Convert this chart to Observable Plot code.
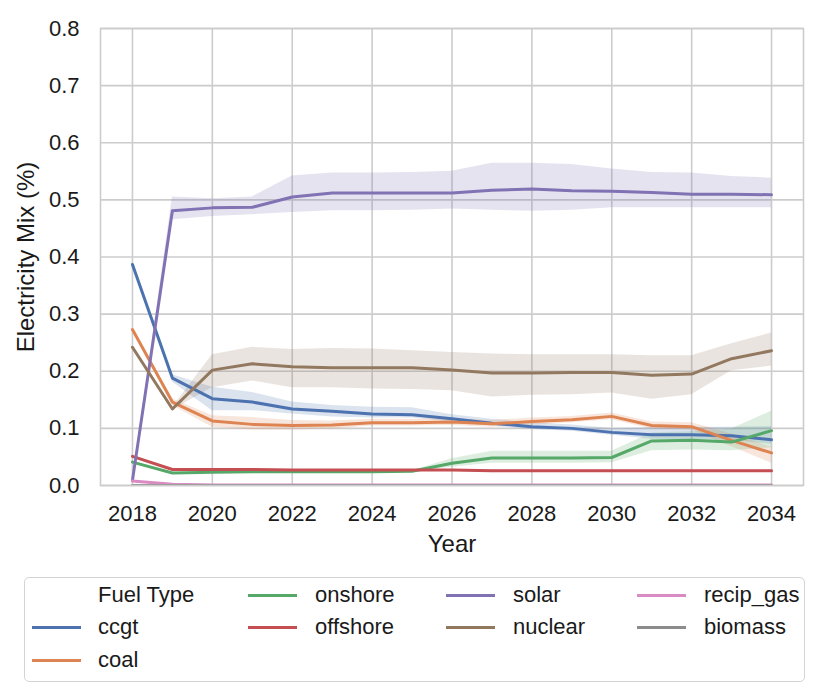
<!DOCTYPE html>
<html>
<head>
<meta charset="utf-8">
<script src="https://cdn.jsdelivr.net/npm/d3@7"></script>
<script src="https://cdn.jsdelivr.net/npm/@observablehq/plot@0.6"></script>
<style>
  html, body { margin: 0; padding: 0; background: #fff; }
  body { width: 831px; height: 697px; position: relative; font-family: "Liberation Sans", Arial, sans-serif; color: #262626; }
  #chart { position: absolute; left: 0; top: 0; }
  #legend { position: absolute; left: 0; top: 0; width: 831px; height: 697px; pointer-events: none; }
  .box { position: absolute; left: 24px; top: 577px; width: 781px; height: 105px; border: 1.5px solid #d4d4d4; border-radius: 5px; box-sizing: border-box; }
  .handle { position: absolute; height: 3px; width: 49px; }
  .lbl { position: absolute; font-size: 22px; line-height: 26px; white-space: nowrap; }
</style>
</head>
<body>
<div id="chart"></div>
<div id="legend"></div>
<script>
const years = [2018,2019,2020,2021,2022,2023,2024,2025,2026,2027,2028,2029,2030,2031,2032,2033,2034];
const fuels = ["ccgt","coal","onshore","offshore","solar","nuclear","recip_gas","biomass"];
const colors = ["#4C72B0","#DD8452","#55A868","#C44E52","#8172B3","#937860","#DA8BC3","#8C8C8C"];
const xTicks = [2018,2020,2022,2024,2026,2028,2030,2032,2034];
const yTicks = [0,0.1,0.2,0.3,0.4,0.5,0.6,0.7,0.8];

const ccgtMean = [0.387,0.188,0.152,0.146,0.134,0.130,0.125,0.124,0.117,0.109,0.103,0.100,0.093,0.089,0.089,0.087,0.080];
const ccgtLo   = [0.387,0.181,0.131,0.131,0.125,0.120,0.118,0.118,0.111,0.104,0.098,0.095,0.088,0.081,0.080,0.079,0.072];
const ccgtHi   = [0.387,0.194,0.172,0.163,0.146,0.140,0.137,0.136,0.124,0.116,0.110,0.106,0.100,0.101,0.102,0.102,0.103];

const coalMean = [0.273,0.146,0.113,0.107,0.105,0.106,0.110,0.110,0.111,0.108,0.112,0.115,0.121,0.105,0.103,0.079,0.057];
const coalLo   = [0.273,0.140,0.102,0.097,0.097,0.099,0.104,0.104,0.105,0.102,0.106,0.110,0.115,0.099,0.097,0.068,0.039];
const coalHi   = [0.273,0.152,0.122,0.119,0.114,0.113,0.116,0.116,0.117,0.114,0.118,0.121,0.127,0.111,0.110,0.090,0.067];

const onshoreMean = [0.041,0.022,0.023,0.024,0.024,0.024,0.024,0.025,0.039,0.048,0.048,0.048,0.049,0.078,0.079,0.076,0.096];
const onshoreLo   = [0.041,0.021,0.022,0.023,0.023,0.023,0.023,0.024,0.032,0.039,0.039,0.039,0.040,0.061,0.062,0.061,0.066];
const onshoreHi   = [0.041,0.023,0.024,0.025,0.025,0.025,0.025,0.026,0.047,0.060,0.060,0.060,0.060,0.092,0.094,0.099,0.130];

const offshoreMean = [0.051,0.028,0.028,0.028,0.027,0.027,0.027,0.027,0.027,0.026,0.026,0.026,0.026,0.026,0.026,0.026,0.026];
const offshoreLo   = [0.051,0.027,0.027,0.027,0.026,0.026,0.026,0.026,0.026,0.025,0.025,0.025,0.025,0.025,0.025,0.025,0.025];
const offshoreHi   = [0.051,0.029,0.029,0.029,0.028,0.028,0.028,0.028,0.028,0.027,0.027,0.027,0.027,0.027,0.027,0.027,0.027];

const solarMean = [0.009,0.481,0.486,0.487,0.505,0.512,0.512,0.512,0.512,0.517,0.519,0.516,0.515,0.513,0.510,0.510,0.509];
const solarLo   = [0.009,0.465,0.471,0.474,0.478,0.481,0.481,0.482,0.484,0.482,0.480,0.482,0.486,0.486,0.486,0.486,0.486];
const solarHi   = [0.009,0.505,0.502,0.505,0.542,0.547,0.547,0.548,0.550,0.564,0.564,0.562,0.554,0.548,0.547,0.541,0.538];

const nuclearMean = [0.242,0.134,0.202,0.213,0.208,0.206,0.206,0.206,0.202,0.197,0.197,0.198,0.198,0.193,0.195,0.222,0.236];
const nuclearLo   = [0.242,0.132,0.171,0.183,0.171,0.171,0.169,0.168,0.166,0.155,0.158,0.159,0.162,0.151,0.159,0.201,0.209];
const nuclearHi   = [0.242,0.136,0.229,0.242,0.238,0.240,0.239,0.236,0.233,0.230,0.229,0.229,0.229,0.227,0.227,0.248,0.267];

const recipMean = [0.008,0.002,0.001,0.001,0.001,0.001,0.001,0.001,0.001,0.001,0.001,0.001,0.001,0.001,0.001,0.001,0.001];
const recipLo   = [0.008,0.001,0.000,0.000,0.000,0.000,0.000,0.000,0.000,0.000,0.000,0.000,0.000,0.000,0.000,0.000,0.000];
const recipHi   = [0.008,0.003,0.002,0.002,0.002,0.002,0.002,0.002,0.002,0.002,0.002,0.002,0.002,0.002,0.002,0.002,0.002];

const biomassMean = [0,0,0,0,0,0,0,0,0,0,0,0,0,0,0,0,0];

const series = {
  ccgt: [ccgtMean, ccgtLo, ccgtHi],
  coal: [coalMean, coalLo, coalHi],
  onshore: [onshoreMean, onshoreLo, onshoreHi],
  offshore: [offshoreMean, offshoreLo, offshoreHi],
  solar: [solarMean, solarLo, solarHi],
  nuclear: [nuclearMean, nuclearLo, nuclearHi],
  recip_gas: [recipMean, recipLo, recipHi],
  biomass: [biomassMean, biomassMean, biomassMean]
};

const rows = [];
for (const f of fuels) {
  const [m, lo, hi] = series[f];
  years.forEach((yr, i) => rows.push({fuel: f, year: yr, value: m[i], lo: lo[i], hi: hi[i]}));
}

const chart = Plot.plot({
  width: 831,
  height: 560,
  marginLeft: 100,
  marginRight: 28,
  marginTop: 28,
  marginBottom: 75,
  style: {fontFamily: "'Liberation Sans', Arial, sans-serif", fontSize: "22px", color: "#1a1a1a", background: "#fff"},
  x: {domain: [2017.2, 2034.8]},
  y: {domain: [0, 0.8]},
  color: {domain: fuels, range: colors},
  marks: [
    Plot.gridX(xTicks, {stroke: "#cccccc", strokeOpacity: 1, strokeWidth: 1.6}),
    Plot.gridY(yTicks, {stroke: "#cccccc", strokeOpacity: 1, strokeWidth: 1.6}),
    Plot.areaY(rows, {x: "year", y1: "lo", y2: "hi", z: "fuel", fill: "fuel", fillOpacity: 0.2, clip: true}),
    Plot.lineY(rows, {x: "year", y: "value", z: "fuel", stroke: "fuel", strokeWidth: 3, clip: true}),
    Plot.frame({stroke: "#cccccc", strokeWidth: 1.6}),
    Plot.axisX(xTicks, {tickSize: 0, tickPadding: 20, tickFormat: d => String(d), label: null, fill: "#1a1a1a", fontSize: 22}),
    Plot.axisY(yTicks, {tickSize: 0, tickPadding: 21, tickFormat: d => d.toFixed(1), label: null, fill: "#1a1a1a", fontSize: 22}),
    Plot.text(["Year"], {frameAnchor: "bottom", dy: 59, lineAnchor: "middle", fontSize: 24, fill: "#1a1a1a"}),
    Plot.text(["Electricity Mix (%)"], {frameAnchor: "left", dx: -74, rotate: -90, lineAnchor: "middle", textAnchor: "middle", fontSize: 24, fill: "#1a1a1a"})
  ]
});
document.getElementById("chart").appendChild(chart);

// Legend (HTML, below the SVG)
const legend = document.getElementById("legend");
const box = document.createElement("div");
box.className = "box";
legend.appendChild(box);
const colX = [[32, 98], [248, 315], [446, 513], [637, 704]];
const rowY = [595, 627, 660];
const entries = [
  {label: "Fuel Type", col: 0, row: 0},
  {label: "ccgt", col: 0, row: 1},
  {label: "coal", col: 0, row: 2},
  {label: "onshore", col: 1, row: 0},
  {label: "offshore", col: 1, row: 1},
  {label: "solar", col: 2, row: 0},
  {label: "nuclear", col: 2, row: 1},
  {label: "recip_gas", col: 3, row: 0},
  {label: "biomass", col: 3, row: 1}
];
for (const e of entries) {
  const [hx, tx] = colX[e.col];
  const cy = rowY[e.row];
  const idx = fuels.indexOf(e.label);
  if (idx >= 0) {
    const h = document.createElement("div");
    h.className = "handle";
    h.style.left = hx + "px";
    h.style.top = (cy - 1.5) + "px";
    h.style.background = colors[idx];
    legend.appendChild(h);
  }
  const t = document.createElement("div");
  t.className = "lbl";
  t.style.left = tx + "px";
  t.style.top = (cy - 13) + "px";
  t.style.color = "#1a1a1a";
  t.textContent = e.label;
  legend.appendChild(t);
}
</script>
</body>
</html>
